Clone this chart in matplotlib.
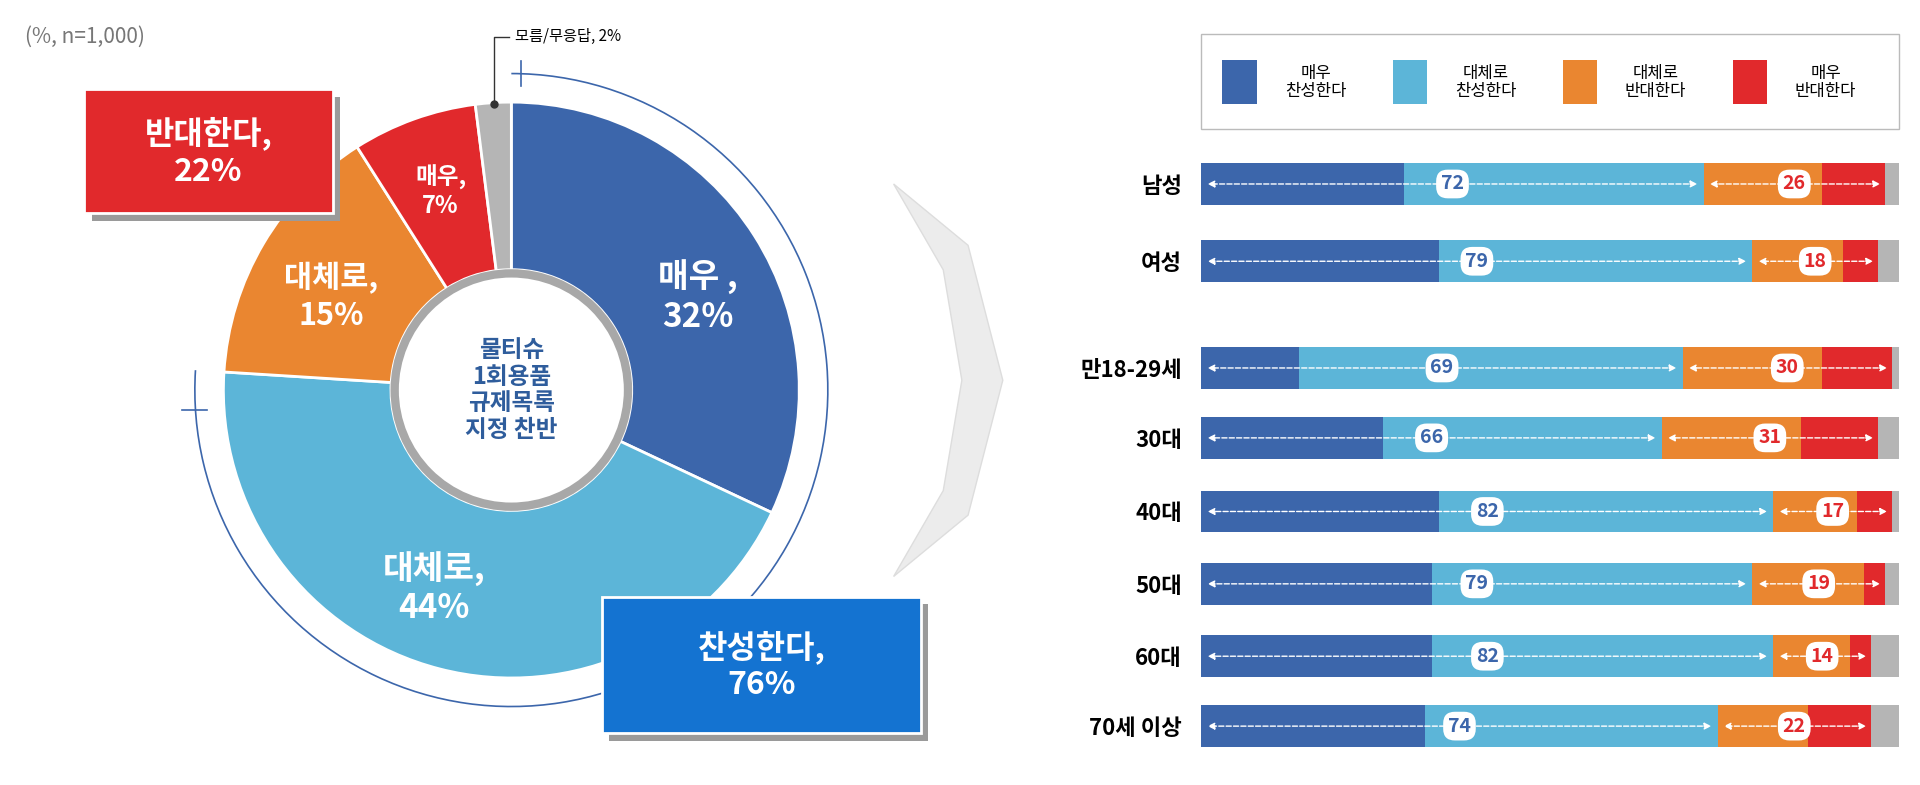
import matplotlib
matplotlib.use("Agg")
import matplotlib.pyplot as plt
from matplotlib.patches import Arc, Rectangle, Circle, Polygon

plt.rcParams['font.family'] = ['Noto Sans CJK KR', 'DejaVu Sans']

pie_labels = ['매우 ,\n32%', '대체로,\n44%', '대체로,\n15%', '매우,\n7%', '']
pie_values = [32, 44, 15, 7, 2]
colors = ['#3c66ab', '#5cb5d8', '#ea8630', '#e1292c', '#b5b5b5']

groups = ['남성', '여성', '만18-29세', '30대', '40대', '50대', '60대', '70세 이상']
very_for = [29, 34, 14, 26, 34, 33, 33, 32]
some_for = [43, 45, 55, 40, 48, 46, 49, 42]
some_against = [17, 13, 20, 20, 12, 16, 11, 13]
very_against = [9, 5, 10, 11, 5, 3, 3, 9]
no_answer = [2, 3, 1, 3, 1, 2, 4, 4]
for_total = [72, 79, 69, 66, 82, 79, 82, 74]
against_total = [26, 18, 30, 31, 17, 19, 14, 22]
legend_labels = ['매우\n찬성한다', '대체로\n찬성한다', '대체로\n반대한다', '매우\n반대한다']
row_y = [150, 213, 300, 357, 417, 476, 535, 592]

fig = plt.figure(figsize=(19.2, 7.85), dpi=100)
ax = fig.add_axes([0, 0, 1, 1])
H = 1547 * 785 / 1920
Y = lambda y: H - y * H / 640
cx, cy = 412, Y(318)

ax.pie(pie_values, colors=colors, startangle=90, counterclock=False,
       radius=232, center=(cx, cy), frame=True,
       wedgeprops=dict(width=135, edgecolor='white', linewidth=2))
ax.set_xlim(0, 1547); ax.set_ylim(0, H); ax.set_aspect('auto'); ax.axis('off')
ax.add_patch(Circle((cx, cy), 94, facecolor='white', edgecolor='#a8a8a8', lw=6, zorder=3))
ax.text(cx, cy, '물티슈\n1회용품\n규제목록\n지정 찬반', ha='center', va='center', fontsize=17,
        fontweight='bold', color='#2f5d9c', linespacing=1.15, zorder=4)
ax.add_patch(Arc((cx, cy), 510, 510, theta1=-183.6, theta2=90, color='#3c66ab', lw=1.2))
ax.plot([cx + 8, cx + 8], [cy + 245, cy + 265], color='#3c66ab', lw=1.2)
ax.plot([cx - 265, cx - 245], [cy - 16, cy - 16], color='#3c66ab', lw=1.2)

for (dx, dy), lab, fs in zip([(150, 75), (-62, -160), (-145, 75), (-57, 160)], pie_labels[:4], [24, 24, 22, 17]):
    ax.text(cx + dx, cy + dy, lab, ha='center', va='center', fontsize=fs, fontweight='bold',
            color='white', linespacing=1.2)

ax.text(20, Y(30), '(%, n=1,000)', fontsize=15, color='#777777', va='center')
ax.plot([398, 398, 410], [Y(85), Y(30), Y(30)], color='#333333', lw=1)
ax.plot(398, Y(85), 'o', color='#333333', ms=5)
ax.text(415, Y(30), '모름/무응답, 2%', fontsize=11, va='center')

def box(x0, y0, x1, y1, fc, text):
    ax.add_patch(Rectangle((x0 + 6, Y(y1) - 6), x1 - x0, y1 - y0, facecolor='#9a9a9a', lw=0))
    ax.add_patch(Rectangle((x0, Y(y1)), x1 - x0, y1 - y0, facecolor=fc, edgecolor='white', lw=2))
    ax.text((x0 + x1) / 2, Y((y0 + y1) / 2), text, ha='center', va='center', fontsize=23,
            fontweight='bold', color='white', linespacing=1.2)
box(68, 74, 268, 174, '#e1292c', '반대한다,\n22%')
box(485, 488, 742, 598, '#1473d1', '찬성한다,\n76%')

ax.add_patch(Polygon([(720, Y(150)), (780, Y(200)), (808, Y(310)), (780, Y(420)), (720, Y(470)),
                      (760, Y(400)), (775, Y(310)), (760, Y(220))], closed=True,
                     facecolor='#ececec', edgecolor='#dddddd', lw=1))

# legend
ax.add_patch(Rectangle((968, Y(105)), 562, 77 * H / 640, facecolor='white', edgecolor='#bbbbbb', lw=1))
for i, lab in enumerate(legend_labels):
    x = 985 + i * 137
    ax.add_patch(Rectangle((x, Y(85)), 28, 36, facecolor=colors[i], lw=0))
    ax.text(x + 75, Y(67), lab, ha='center', va='center', fontsize=12, linespacing=1.1)

bx = fig.add_axes([968 / 1547, 1 - 615 / 640, 562 / 1547, 490 / 640])
bx.set_xlim(0, 100); bx.set_ylim(615, 125)
left = [0] * 8
for vals, c in zip([very_for, some_for, some_against, very_against, no_answer], colors):
    bx.barh(row_y, vals, left=left, height=34, color=c, edgecolor='none')
    left = [l + v for l, v in zip(left, vals)]
for i, y in enumerate(row_y):
    fe = very_for[i] + some_for[i]
    ae = fe + some_against[i] + very_against[i]
    bx.annotate('', xy=(0.5, y), xytext=(fe - 0.5, y),
                arrowprops=dict(arrowstyle='<|-|>', color='white', ls='--', lw=1, mutation_scale=10))
    bx.annotate('', xy=(fe + 0.5, y), xytext=(ae - 0.3, y),
                arrowprops=dict(arrowstyle='<|-|>', color='white', ls='--', lw=1, mutation_scale=10))
    bx.text(fe / 2, y, str(for_total[i]), ha='center', va='center', fontsize=14, fontweight='bold',
            color='#3c66ab', bbox=dict(boxstyle='round,pad=0.25,rounding_size=0.6', fc='white', ec='none'))
    bx.text((fe + ae) / 2, y, str(against_total[i]), ha='center', va='center', fontsize=14,
            fontweight='bold', color='#e1292c',
            bbox=dict(boxstyle='round,pad=0.25,rounding_size=0.6', fc='white', ec='none'))
bx.set_yticks(row_y); bx.set_yticklabels(groups, fontsize=16, fontweight='bold')
bx.tick_params(length=0, pad=14); bx.set_xticks([])
for s in bx.spines.values():
    s.set_visible(False)

fig.savefig('out.png', dpi=100)
